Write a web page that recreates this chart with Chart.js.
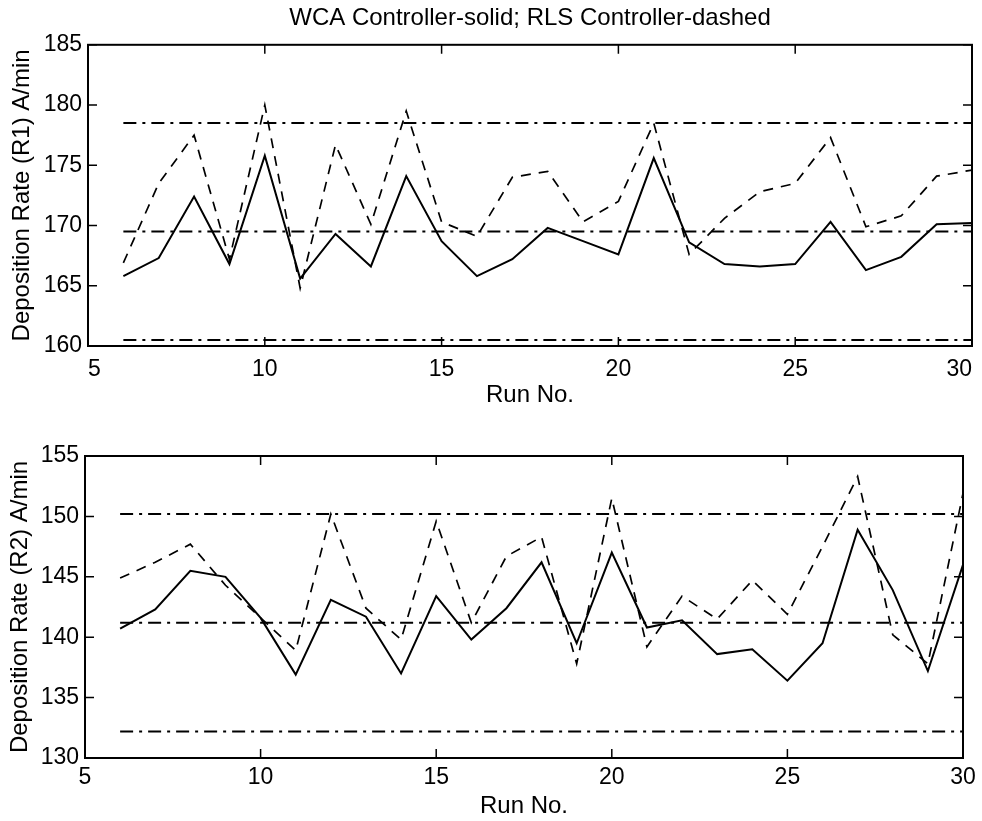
<!DOCTYPE html>
<html>
<head>
<meta charset="utf-8">
<script src="https://cdn.jsdelivr.net/npm/chart.js@4/dist/chart.umd.min.js"></script>
<style>
  body { margin: 0; background: #fff; }
  .wrap { position: absolute; left: 0; }
</style>
</head>
<body>
<div class="wrap" style="top:0"><canvas id="chartR1" width="982" height="410"></canvas></div>
<div class="wrap" style="top:410px"><canvas id="chartR2" width="982" height="411"></canvas></div>
<script>
// run numbers on the x axis
const runs = [6, 7, 8, 9, 10, 11, 12, 13, 14, 15, 16, 17, 18, 19, 20, 21, 22, 23, 24, 25, 26, 27, 28, 29, 30];

// R1 deposition rate, A/min
const wcaR1 = [165.8, 167.3, 172.4, 166.8, 175.8, 165.6, 169.3, 166.6, 174.1, 168.7, 165.8, 167.2, 169.8,
               168.7, 167.6, 175.6, 168.6, 166.8, 166.6, 166.8, 170.3, 166.3, 167.4, 170.1, 170.2];
const rlsR1 = [166.9, 173.5, 177.5, 167.2, 180.0, 164.8, 176.7, 170.1, 179.5, 170.3, 169.1, 174.0, 174.5,
               170.3, 172.0, 178.5, 167.6, 170.6, 172.8, 173.5, 177.3, 169.9, 170.8, 174.1, 174.6];
const limitsR1 = [178.5, 169.5, 160.5];   // upper, centre, lower

// R2 deposition rate, A/min
const wcaR2 = [140.7, 142.3, 145.5, 145.0, 141.6, 136.9, 143.1, 141.7, 137.0, 143.4, 139.8, 142.4, 146.2,
               139.5, 147.0, 140.8, 141.4, 138.6, 139.0, 136.4, 139.5, 148.9, 143.9, 137.2, 146.0];
const rlsR2 = [144.9, 146.2, 147.7, 144.3, 141.6, 138.9, 150.2, 142.4, 139.8, 149.6, 141.2, 146.7, 148.3,
               137.8, 151.5, 139.2, 143.4, 141.5, 144.7, 141.9, 147.5, 153.3, 140.2, 137.8, 151.9];
const limitsR2 = [150.2, 141.2, 132.2];

const xTicks = [5, 10, 15, 20, 25, 30];
const yTicksR1 = [160, 165, 170, 175, 180, 185];
const yTicksR2 = [130, 135, 140, 145, 150, 155];

const FONT = "'Liberation Sans', Arial, Helvetica, sans-serif";

// matlab style box with inward ticks
const boxTicks = {
  id: 'boxTicks',
  afterDraw(chart) {
    const { ctx, chartArea: a, scales: { x, y } } = chart;
    ctx.save();
    ctx.strokeStyle = '#000';
    ctx.lineWidth = 2;
    ctx.strokeRect(a.left, a.top, a.right - a.left, a.bottom - a.top);
    ctx.lineWidth = 1.5;
    ctx.beginPath();
    x.ticks.forEach(t => {
      const px = x.getPixelForValue(t.value);
      ctx.moveTo(px, a.bottom); ctx.lineTo(px, a.bottom - 9);
      ctx.moveTo(px, a.top); ctx.lineTo(px, a.top + 9);
    });
    y.ticks.forEach(t => {
      const py = y.getPixelForValue(t.value);
      ctx.moveTo(a.left, py); ctx.lineTo(a.left + 9, py);
      ctx.moveTo(a.right, py); ctx.lineTo(a.right - 9, py);
    });
    ctx.stroke();
    ctx.restore();
  }
};

function makeChart(id, cfg) {
  const pts = vals => runs.map((r, i) => ({ x: r, y: vals[i] }));
  const limitLine = v => ({
    data: [{ x: runs[0], y: v }, { x: runs[runs.length - 1], y: v }],
    borderColor: '#000', borderWidth: 2, borderDash: [13, 6, 3, 6], pointRadius: 0
  });
  const datasets = [
    { label: 'WCA', data: pts(cfg.wca), borderColor: '#000', borderWidth: 2, pointRadius: 0 },
    { label: 'RLS', data: pts(cfg.rls), borderColor: '#000', borderWidth: 1.7, borderDash: [10, 8], pointRadius: 0 }
  ].concat(cfg.limits.map(limitLine));

  return new Chart(document.getElementById(id), {
    type: 'line',
    data: { datasets },
    plugins: [boxTicks],
    options: {
      responsive: false,
      animation: false,
      layout: { padding: { top: cfg.padTop, right: 0, bottom: 0, left: 0 } },
      plugins: {
        legend: { display: false },
        tooltip: { enabled: false },
        title: cfg.title ? {
          display: true,
          fullSize: false,
          text: cfg.title,
          color: '#000',
          font: { family: FONT, size: 24, weight: 'normal' },
          padding: { top: 4, bottom: 12 }
        } : { display: false }
      },
      scales: {
        x: {
          type: 'linear',
          min: 5, max: 30,
          afterBuildTicks: s => { s.ticks = xTicks.map(v => ({ value: v })); },
          afterFit: s => { s.height = cfg.xHeight; s.paddingRight = cfg.padRight; s.paddingLeft = 0; },
          grid: { display: false, drawTicks: false },
          border: { display: false },
          ticks: { color: '#000', padding: cfg.xTickPad, align: cfg.xAlign, font: { family: FONT, size: 23 } },
          title: { display: true, text: 'Run No.', color: '#000', padding: { top: 0, bottom: 0 },
                   font: { family: FONT, size: 24 } }
        },
        y: {
          min: cfg.yTicks[0], max: cfg.yTicks[cfg.yTicks.length - 1],
          afterBuildTicks: s => { s.ticks = cfg.yTicks.map(v => ({ value: v })); },
          afterFit: s => { s.width = cfg.yWidth; },
          grid: { display: false, drawTicks: false },
          border: { display: false },
          ticks: { color: '#000', padding: 6, font: { family: FONT, size: 23 } },
          title: { display: true, text: cfg.yTitle, color: '#000', padding: { top: cfg.yTitlePad, bottom: 0 },
                   font: { family: FONT, size: 24 } }
        }
      }
    }
  });
}

makeChart('chartR1', {
  wca: wcaR1, rls: rlsR1, limits: limitsR1, yTicks: yTicksR1,
  title: 'WCA Controller-solid; RLS Controller-dashed',
  yTitle: 'Deposition Rate (R1) A/min',
  padTop: 0, padRight: 10, xHeight: 64, xTickPad: 10, xAlign: 'inner', yWidth: 88, yTitlePad: 8
});

makeChart('chartR2', {
  wca: wcaR2, rls: rlsR2, limits: limitsR2, yTicks: yTicksR2,
  title: null,
  yTitle: 'Deposition Rate (R2) A/min',
  padTop: 46, padRight: 19, xHeight: 63, xTickPad: 6, xAlign: 'center', yWidth: 85, yTitlePad: 6
});
</script>
</body>
</html>
